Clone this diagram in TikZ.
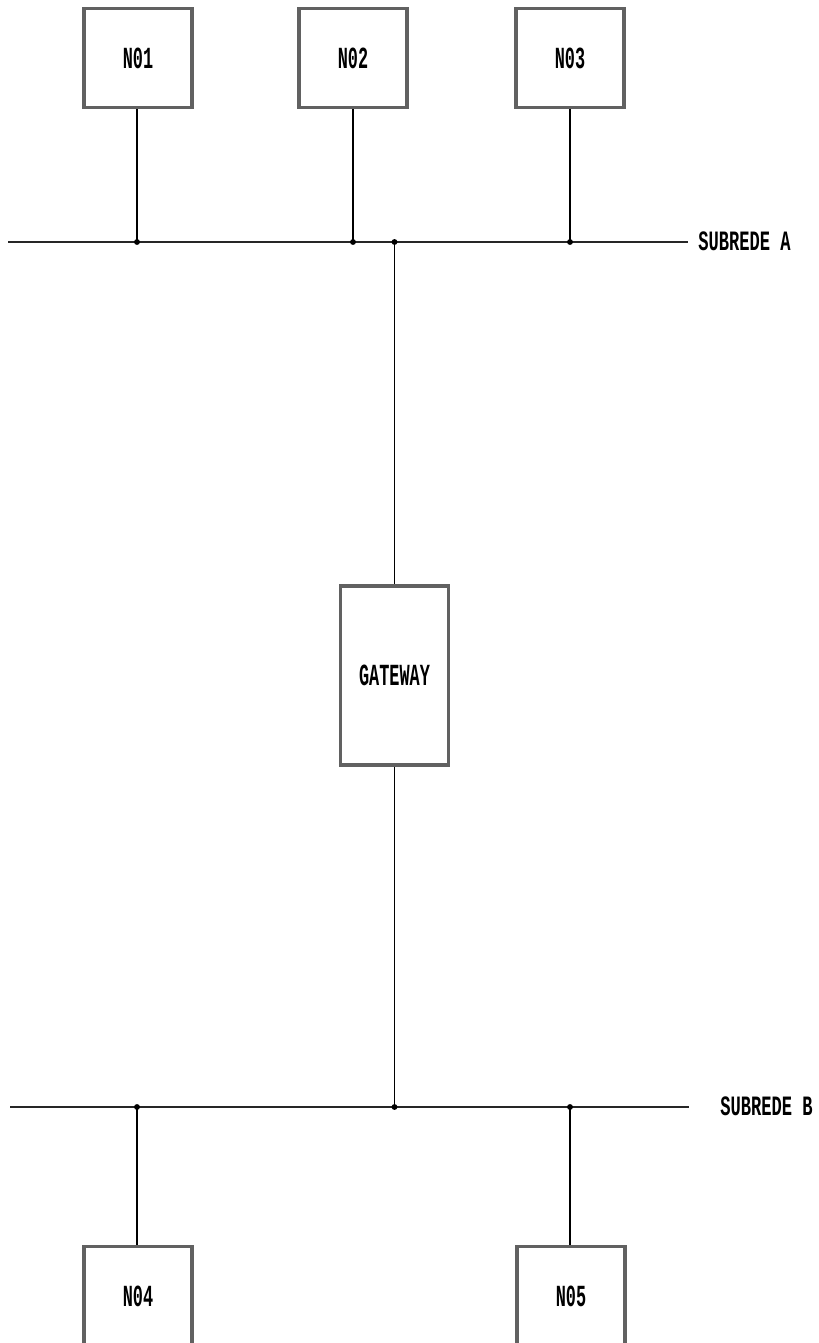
\documentclass[tikz,border=0pt]{standalone}
\usepackage{fontspec}
\newfontfamily\diagfont{Liberation Mono}[BoldFont={Liberation Mono Bold}]
\begin{document}
\begin{tikzpicture}[x=0.75pt,y=-0.75pt,
  hostbox/.style={draw=black!62,line width=2.6pt,fill=white,inner sep=0pt,
    minimum width=81pt,minimum height=74pt,font=\diagfont\bfseries\fontsize{23}{23}\selectfont},
  gwbox/.style={hostbox,minimum width=81pt,minimum height=134pt},
  bus/.style={draw=black!85,line width=1.1pt},
  drop/.style={draw=black,line width=1.1pt},
  busname/.style={anchor=west,inner sep=0pt,font=\diagfont\bfseries\fontsize{21}{21}\selectfont},
  joint/.style={fill=black,draw=none}]
\clip (0,0) rectangle (818,1343);
\fill[white] (0,0) rectangle (818,1343);
% boxes
\node[hostbox] (n01) at (138,58) {\scalebox{0.55}[1]{N01}};
\node[hostbox] (n02) at (353,58) {\scalebox{0.55}[1]{N02}};
\node[hostbox] (n03) at (570,58) {\scalebox{0.55}[1]{N03}};
\node[gwbox] (gw) at (394.5,675.5) {\scalebox{0.55}[1]{GATEWAY}};
\node[hostbox] (n04) at (138,1296) {\scalebox{0.55}[1]{N04}};
\node[hostbox] (n05) at (571,1296) {\scalebox{0.55}[1]{N05}};
% bus coordinates
\coordinate (a0) at (8,242);
\coordinate (a1) at (137,242);
\coordinate (a2) at (353,242);
\coordinate (ag) at (394.5,242);
\coordinate (a3) at (570,242);
\coordinate (aend) at (688,242);
\coordinate (b0) at (10,1107);
\coordinate (b4) at (137,1107);
\coordinate (bg) at (394.5,1107);
\coordinate (b5) at (570,1107);
\coordinate (bend) at (689,1107);
% buses
\draw[bus] (a0) -- (aend);
\draw[bus] (b0) -- (bend);
% drops
\draw[drop] (n01.south -| a1) -- (a1);
\draw[drop] (n02.south -| a2) -- (a2);
\draw[drop] (n03.south -| a3) -- (a3);
\draw[drop] (ag) -- (gw.north);
\draw[drop] (gw.south) -- (bg);
\draw[drop] (b4) -- (n04.north -| b4);
\draw[drop] (b5) -- (n05.north -| b5);
% junctions
\foreach \p in {a1,a2,ag,a3,b4,bg,b5}{\fill[joint] (\p) circle (2.2pt);}
% labels
\node[busname] (la) at (698,241) {\scalebox{0.61}[1]{SUBREDE A}};
\node[busname] (lb) at (720,1106) {\scalebox{0.61}[1]{SUBREDE B}};
\end{tikzpicture}
\end{document}
